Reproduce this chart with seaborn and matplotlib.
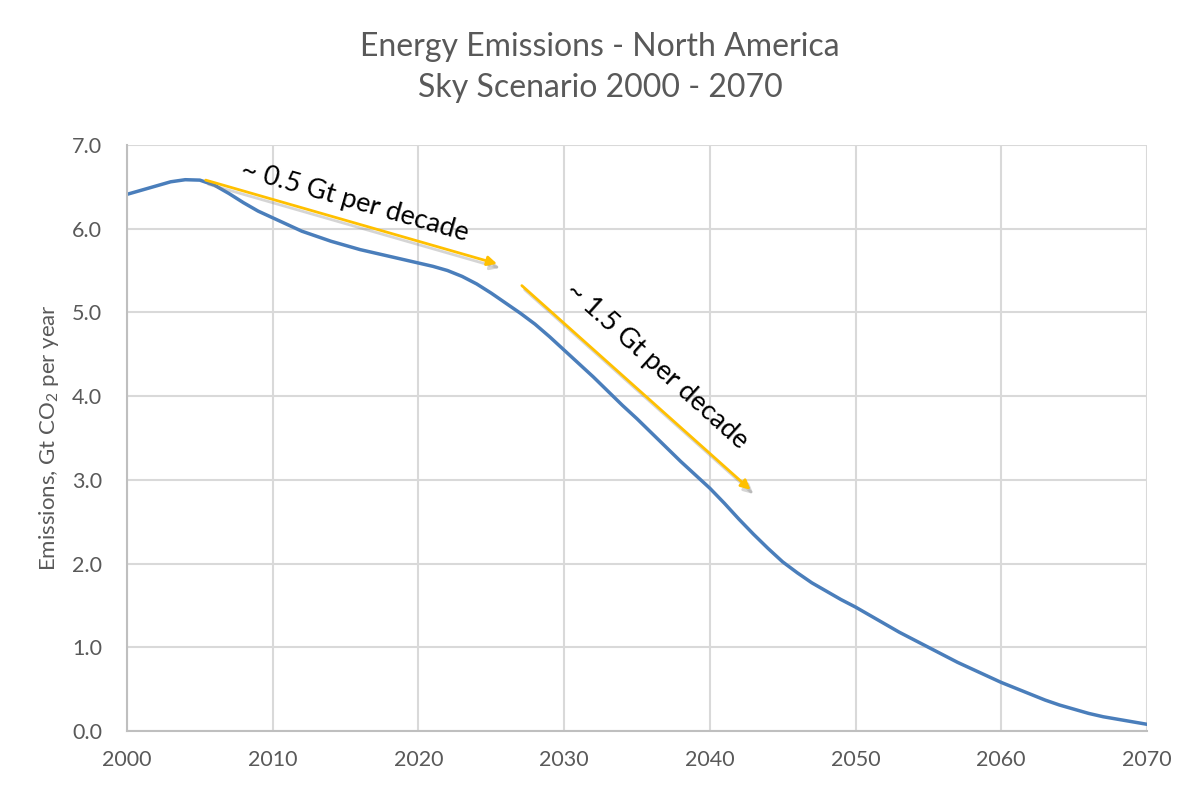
import matplotlib
matplotlib.use("Agg")
import matplotlib.pyplot as plt
import matplotlib.patheffects as pe
import pandas as pd
import seaborn as sns

# values, one per year
years = list(range(2000, 2071))
emissions = [6.41, 6.46, 6.51, 6.56, 6.585, 6.58, 6.52, 6.42, 6.31, 6.21,
             6.13, 6.05, 5.97, 5.91, 5.85, 5.80, 5.75, 5.71, 5.67, 5.63,
             5.59, 5.55, 5.50, 5.43, 5.34, 5.23, 5.11, 4.99, 4.86, 4.71,
             4.55, 4.39, 4.23, 4.06, 3.89, 3.73, 3.56, 3.39, 3.22, 3.06,
             2.90, 2.72, 2.53, 2.35, 2.18, 2.02, 1.89, 1.77, 1.67, 1.57,
             1.48, 1.38, 1.28, 1.18, 1.09, 1.00, 0.91, 0.82, 0.74, 0.66,
             0.58, 0.51, 0.44, 0.37, 0.31, 0.26, 0.21, 0.17, 0.14, 0.11,
             0.08]

arrow_slow = [(2005.4, 6.58), (2025.4, 5.58)]
arrow_fast = [(2027.1, 5.32), (2042.8, 2.88)]
label_slow = "~ 0.5 Gt per decade"
label_fast = "~ 1.5 Gt per decade"

title = "Energy Emissions - North America\nSky Scenario 2000 - 2070"
ylabel = "Emissions, Gt CO$_2$ per year"

df = pd.DataFrame({"year": years, "emissions": emissions})

sns.set_style("white")
plt.rcParams["font.family"] = ["Lato", "DejaVu Sans"]
plt.rcParams["mathtext.fontset"] = "custom"
plt.rcParams["mathtext.rm"] = "Lato"
plt.rcParams["mathtext.it"] = "Lato:italic"

grey = "#595959"
fig = plt.figure(figsize=(12, 7.93), dpi=100)
ax = fig.add_axes([0.1058, 0.0782, 0.85, 0.739])

sns.lineplot(data=df, x="year", y="emissions", ax=ax, color="#4A7EBB", linewidth=2.5)

ax.set_xlim(2000, 2070)
ax.set_ylim(0, 7)
ax.set_xticks(range(2000, 2071, 10))
ax.set_yticks([i for i in range(8)])
ax.set_yticklabels([f"{i:.1f}" for i in range(8)])
ax.grid(True, color="#D9D9D9", linewidth=1.5)
ax.tick_params(axis="y", labelsize=15.5, colors=grey, length=0, pad=18)
ax.tick_params(axis="x", labelsize=15.5, colors=grey, length=0, pad=14)
for s in ["top", "right"]:
    ax.spines[s].set_visible(False)
for s in ["left", "bottom"]:
    ax.spines[s].set_color("#BFBFBF")
    ax.spines[s].set_linewidth(1.5)

ax.set_xlabel("")
ax.set_ylabel(ylabel, fontsize=16, color=grey, labelpad=8)
fig.suptitle(title, fontsize=23, color=grey, y=0.96, linespacing=1.45)

shadow = [pe.SimpleLineShadow(offset=(2, -3), shadow_color="#888888", alpha=0.35), pe.Normal()]
for (x0, y0), (x1, y1) in [arrow_slow, arrow_fast]:
    ax.annotate("", xy=(x1, y1), xytext=(x0, y0),
                arrowprops=dict(arrowstyle="-|>", color="#FFC000", lw=2,
                                mutation_scale=14, shrinkA=0, shrinkB=0,
                                path_effects=shadow))

ax.text(2015.6, 6.33, label_slow, rotation=-16, ha="center", va="center",
        fontsize=19.5, color="black", rotation_mode="anchor")
ax.text(2036.4, 4.36, label_fast, rotation=-42, ha="center", va="center",
        fontsize=19.5, color="black", rotation_mode="anchor")

fig.savefig("out.png", dpi=100)
